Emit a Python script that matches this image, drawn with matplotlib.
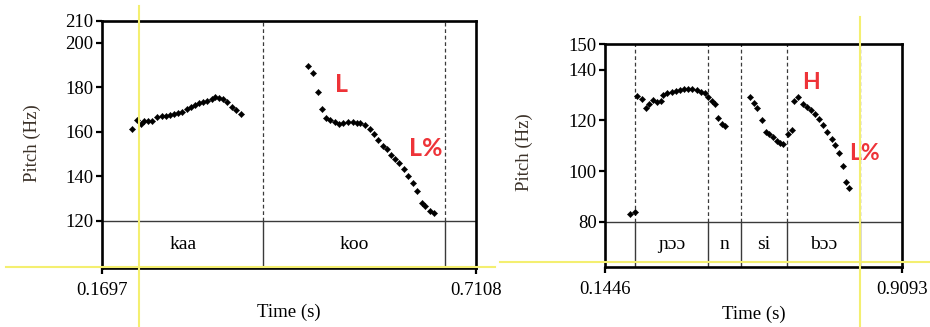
import matplotlib
matplotlib.use("Agg")
import matplotlib.pyplot as plt
from matplotlib.lines import Line2D

# ---------------- data ----------------
# Left panel
left_xlim = (0.1697, 0.7108)
left_ylim = (98.7, 210)
left_yticks = [120, 140, 160, 180, 200, 210]
left_bounds = [0.1697, 0.4033, 0.6664, 0.7108]
left_tier = ["kaa", "koo", ""]

left_t1 = [0.2136, 0.2199, 0.2257, 0.2310, 0.2367, 0.2425, 0.2498, 0.2561, 0.2619,
           0.2682, 0.2740, 0.2802, 0.2860, 0.2923, 0.2981, 0.3048, 0.3102, 0.3164,
           0.3222, 0.3285, 0.3333, 0.3391, 0.3454, 0.3512, 0.3575, 0.3637, 0.3705]
left_p1 = [161.1, 165.2, 163.6, 164.7, 164.9, 164.9, 166.5, 167.1, 167.1,
           167.6, 168.2, 168.6, 169.0, 170.3, 171.0, 172.2, 172.9, 173.5,
           174.0, 174.8, 175.5, 175.1, 174.6, 173.5, 171.3, 169.8, 168.0]

left_t2 = [0.4685, 0.4757, 0.4830, 0.4878, 0.4940, 0.4999, 0.5071, 0.5133, 0.5191,
           0.5264, 0.5327, 0.5385, 0.5433, 0.5505, 0.5578, 0.5636, 0.5698, 0.5761,
           0.5819, 0.5877, 0.5940, 0.6002, 0.6070, 0.6132, 0.6196, 0.6254, 0.6326,
           0.6374, 0.6446, 0.6504]
left_p2 = [189.6, 186.6, 177.9, 170.4, 166.3, 165.3, 164.3, 163.6, 164.1,
           164.5, 164.3, 164.1, 163.8, 162.9, 161.1, 158.9, 156.3, 153.6,
           152.3, 149.6, 147.6, 145.8, 143.3, 140.1, 136.8, 133.5, 127.8,
           126.6, 124.4, 123.6]

left_marks = ["L", "L%"]
left_mark_t = [0.5172, 0.6389]
left_mark_p = [181.5, 152.7]

# Right panel
right_xlim = (0.1446, 0.9093)
right_ylim = (62.24, 150)
right_yticks = [80, 100, 120, 140, 150]
right_bounds = [0.1446, 0.2219, 0.4108, 0.4943, 0.6137, 0.8018, 0.9093]
right_tier = ["", "ɲɔɔ", "n", "si", "bɔɔ", ""]

right_t = [0.2090, 0.2219,
           0.2279, 0.2392, 0.2503, 0.2588, 0.2691, 0.2794, 0.2882, 0.2949, 0.3052,
           0.3165, 0.3268, 0.3379, 0.3482, 0.3593, 0.3696, 0.3809, 0.3912, 0.4023,
           0.4108, 0.4211, 0.4281, 0.4366, 0.4454, 0.4539,
           0.5183, 0.5286, 0.5371, 0.5485, 0.5588, 0.5673, 0.5784, 0.5871, 0.5956,
           0.6042, 0.6155, 0.6258,
           0.6317, 0.6428, 0.6541, 0.6644, 0.6748, 0.6858, 0.6961, 0.7073, 0.7175,
           0.7289, 0.7374, 0.7485, 0.7572, 0.7657, 0.7743]
right_p = [83.0, 83.9,
           129.6, 128.3, 124.7, 126.3, 128.0, 127.4, 127.8, 130.0, 130.7,
           131.1, 131.7, 132.0, 132.2, 132.4, 132.2, 132.0, 131.3, 130.7,
           129.4, 127.8, 126.6, 120.8, 118.6, 117.8,
           129.3, 126.7, 124.7, 120.1, 115.5, 114.6, 113.6, 112.0, 110.9,
           110.5, 114.5, 116.2,
           127.6, 129.1, 126.5, 125.4, 124.1, 122.5, 120.4, 118.2, 115.5,
           112.5, 110.3, 107.0, 101.8, 95.8, 93.4]

right_marks = ["H", "L%"]
right_mark_t = [0.6755, 0.8121]
right_mark_p = [135.1, 107.1]

# ---------------- drawing ----------------
W, H = 930, 327
fig = plt.figure(figsize=(W / 100, H / 100), dpi=100)
serif = ["Liberation Serif", "DejaVu Serif"]
red = "#EE3338"
yellow = "#F4EF70"


def px_rect(x0, y0, x1, y1):
    return [x0 / W, 1 - y1 / H, (x1 - x0) / W, (y1 - y0) / H]


def make_panel(rect, xlim, ylim, yticks, split, bounds, tier, series, marks, mt, mp, msize,
               xlab_xy, ylab_xy):
    ax = fig.add_axes(rect)
    ax.set_facecolor("none")
    ax.set_xlim(*xlim)
    ax.set_ylim(*ylim)
    for s in ax.spines.values():
        s.set_linewidth(1.9)
        s.set_color("black")
    ax.set_yticks(yticks)
    ax.set_yticklabels([str(v) for v in yticks], family=serif, fontsize=13.5)
    ax.set_xticks(list(xlim))
    ax.set_xticklabels([f"{v:.4f}" for v in xlim], family=serif, fontsize=13.5)
    ax.tick_params(axis="y", length=4, width=1.6, pad=2, direction="out")
    ax.tick_params(axis="x", length=4, width=1.6, pad=6, direction="out")
    # tier separator
    ax.axhline(split, color="#3a3a3a", lw=1.0, zorder=2)
    inner = bounds[1:-1]
    for b in inner:
        ax.plot([b, b], [split, ylim[1]], color="#3a3a3a", lw=0.9,
                linestyle=(0, (3, 2.2)), zorder=2)
        ax.plot([b, b], [ylim[0], split], color="#3a3a3a", lw=1.0, zorder=2)
    ymid = (ylim[0] + split) / 2
    for i, lab in enumerate(tier):
        if lab:
            ax.text((bounds[i] + bounds[i + 1]) / 2, ymid, lab, ha="center",
                    va="center", family=serif, fontsize=14, color="black")
    for t, p in series:
        ax.plot(t, p, linestyle="none", marker="D", markersize=3.2,
                color="black", markeredgewidth=0.3, zorder=3)
    for lab, t, p, fs in zip(marks, mt, mp, msize):
        ax.text(t, p, lab, ha="center", va="center", color=red, fontsize=fs,
                fontweight="bold", family=["Lato", "DejaVu Sans"], clip_on=False, zorder=4)
    fig.text(xlab_xy[0] / W, 1 - xlab_xy[1] / H, "Time (s)", ha="center", va="center",
             family=serif, fontsize=13.5)
    fig.text(ylab_xy[0] / W, 1 - ylab_xy[1] / H, "Pitch (Hz)", ha="center", va="center",
             rotation=90, family=serif, fontsize=13.5, color="#3b3128")
    return ax


axL = make_panel(px_rect(102, 20.7, 475.7, 268), left_xlim, left_ylim, left_yticks, 120,
                 left_bounds, left_tier, [(left_t1, left_p1), (left_t2, left_p2)],
                 left_marks, left_mark_t, left_mark_p, [18, 18], (289, 312), (32, 143))
axR = make_panel(px_rect(605, 44.3, 901.7, 266.7), right_xlim, right_ylim, right_yticks, 80,
                 right_bounds, right_tier, [(right_t, right_p)],
                 right_marks, right_mark_t, right_mark_p, [16.5, 16.5], (754, 314), (524, 152))


def fig_line(x0, y0, x1, y1):
    fig.add_artist(Line2D([x0 / W, x1 / W], [1 - y0 / H, 1 - y1 / H],
                          transform=fig.transFigure, color=yellow, lw=1.5, zorder=10))


fig_line(139, 6, 139, 327)
fig_line(6, 266.5, 495, 266.5)
fig_line(500, 262.3, 930, 262.3)
fig_line(860, 17, 860, 327)

fig.savefig("out.png", dpi=100)
